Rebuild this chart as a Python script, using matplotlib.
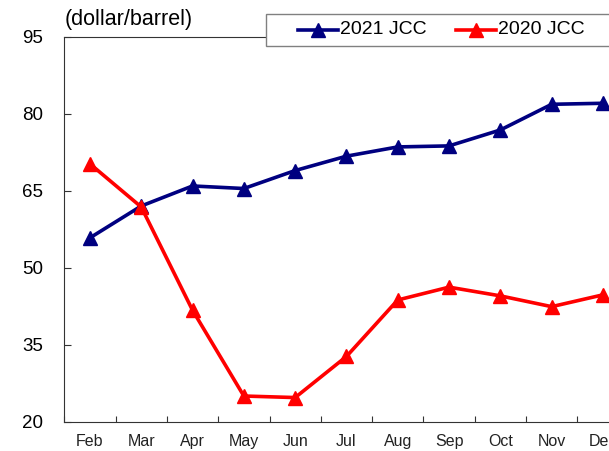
import numpy as np
from matplotlib import pyplot as plt
from matplotlib.lines import Line2D
from matplotlib.patches import Rectangle

plt.rcParams['font.family'] = ['Liberation Sans', 'DejaVu Sans']

# data
months = ['Feb', 'Mar', 'Apr', 'May', 'Jun', 'Jul', 'Aug', 'Sep', 'Oct', 'Nov', 'Dec']
jcc_2021 = [55.8, 62.0, 65.9, 65.4, 68.9, 71.7, 73.5, 73.7, 76.8, 81.8, 82.0]
jcc_2020 = [70.2, 61.8, 41.7, 25.0, 24.7, 32.7, 43.7, 46.2, 44.5, 42.4, 44.7]
y_ticks = [20, 35, 50, 65, 80, 95]

NAVY = '#000080'
RED = '#ff0000'
W, H = 609, 451


def fx(px):
    return px / W


def fy(py):
    return 1 - py / H


fig = plt.figure(figsize=(W / 100, H / 100), dpi=100, facecolor='white')
# axes runs past the right edge of the picture, like the cropped original
ax = fig.add_axes([fx(64.3), fy(421.7), 564.3 / W, 385.2 / H])

x = np.arange(len(months))
ax.plot(x, jcc_2021, color=NAVY, lw=2.6, marker='^', ms=9.5, zorder=3)
ax.plot(x, jcc_2020, color=RED, lw=2.6, marker='^', ms=9.5, zorder=3)

ax.set_xlim(-0.5, len(months) - 0.5)
ax.set_ylim(20, 95)
ax.set_yticks(y_ticks)
ax.set_xticks(x)
ax.set_xticklabels(months, fontsize=11.5, color='#222222')
ax.set_xticks(np.arange(len(months) + 1) - 0.5, minor=True)

ax.tick_params(axis='y', direction='in', length=5, width=0.8, pad=15,
               labelsize=13.5, colors='#333333', labelcolor='black')
ax.tick_params(axis='x', which='major', length=0, pad=9)
ax.tick_params(axis='x', which='minor', direction='in', length=4, width=0.8, colors='#333333')

for s in ax.spines.values():
    s.set_color('#333333')
    s.set_linewidth(0.8)

fig.text(fx(65), fy(20), '(dollar/barrel)', fontsize=15.5, va='center', ha='left')

# legend box, cut by the right edge
fig.patches.append(Rectangle((fx(266), fy(46)), (640 - 266) / W, 32 / H,
                             transform=fig.transFigure, facecolor='white',
                             edgecolor='#808080', lw=1.0, zorder=5))
for x0, col, lab in [(298, NAVY, '2021 JCC'), (456, RED, '2020 JCC')]:
    fig.lines.append(Line2D([fx(x0), fx(x0 + 40)], [fy(30), fy(30)],
                            transform=fig.transFigure, color=col, lw=2.6, zorder=6))
    fig.lines.append(Line2D([fx(x0 + 20)], [fy(30)], transform=fig.transFigure,
                            color=col, marker='^', ms=9.5, zorder=6))
    fig.text(fx(x0 + 42), fy(30), lab, fontsize=14, va='center', ha='left', zorder=6)

fig.savefig('out.png', dpi=100, facecolor='white')
